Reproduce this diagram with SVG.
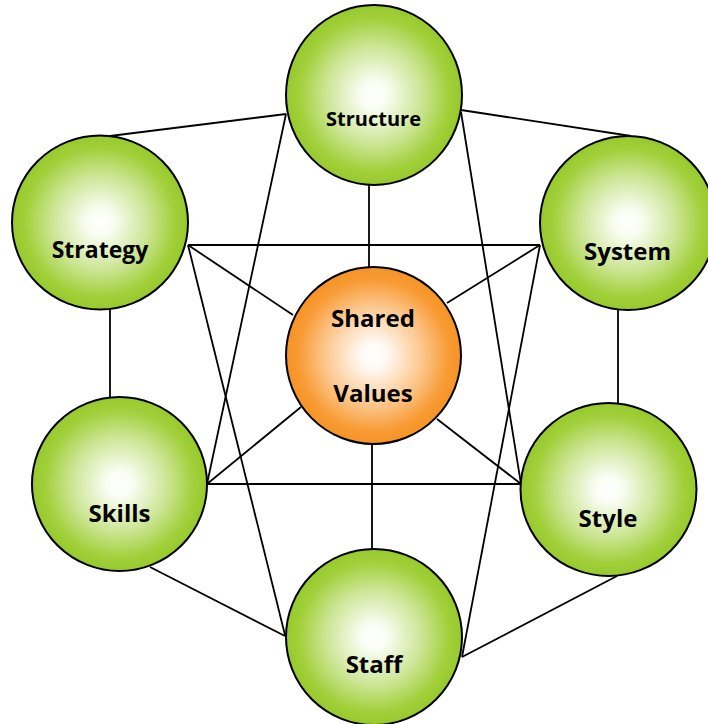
<svg xmlns="http://www.w3.org/2000/svg" width="708" height="724" viewBox="0 0 708 724">
  <defs>
    <radialGradient id="gGreen" cx="50%" cy="50%" r="50%">
      <stop offset="0" stop-color="#ffffff"/>
      <stop offset="0.15" stop-color="#fafdf3"/>
      <stop offset="0.55" stop-color="#cbe593"/>
      <stop offset="0.85" stop-color="#a2d03b"/>
      <stop offset="1" stop-color="#97c92c"/>
    </radialGradient>
    <radialGradient id="gOrange" cx="50%" cy="50%" r="50%">
      <stop offset="0" stop-color="#ffffff"/>
      <stop offset="0.15" stop-color="#fff9f3"/>
      <stop offset="0.55" stop-color="#fcc88f"/>
      <stop offset="0.85" stop-color="#f89c36"/>
      <stop offset="1" stop-color="#f69324"/>
    </radialGradient>
    <style>
      .node { stroke: #000000; stroke-width: 2; }
      .green { fill: url(#gGreen); }
      .orange { fill: url(#gOrange); }
      .lbl { font-family: "Open Sans", "Liberation Sans", sans-serif; font-weight: bold; fill: #000000; text-anchor: middle; }
      .conn line { stroke: #000000; stroke-width: 1.8; fill: none; }
    </style>
  </defs>
  <rect width="708" height="724" fill="#ffffff"/>
  <g id="connectors" class="conn">
    <line x1="110" y1="136" x2="286" y2="114"/>
    <line x1="461" y1="110" x2="631" y2="136"/>
    <line x1="369" y1="185" x2="369" y2="267"/>
    <line x1="188" y1="245" x2="540" y2="245"/>
    <line x1="188" y1="245" x2="293" y2="315"/>
    <line x1="188" y1="245" x2="285" y2="635"/>
    <line x1="286" y1="114" x2="207" y2="484"/>
    <line x1="207" y1="484" x2="301" y2="407"/>
    <line x1="207" y1="484" x2="521" y2="484"/>
    <line x1="150" y1="567" x2="285" y2="636"/>
    <line x1="110" y1="309" x2="110" y2="397"/>
    <line x1="461" y1="112" x2="521" y2="484"/>
    <line x1="540" y1="245" x2="447" y2="303"/>
    <line x1="540" y1="245" x2="462" y2="657"/>
    <line x1="618" y1="310" x2="618" y2="404"/>
    <line x1="437" y1="419" x2="521" y2="484"/>
    <line x1="372" y1="444" x2="372" y2="550"/>
    <line x1="617" y1="576" x2="462" y2="657"/>
  </g>
  <g id="structure">
    <ellipse class="node green" cx="374" cy="95" rx="88" ry="90"/>
    <text class="lbl" x="373.5" y="126" font-size="20">Structure</text>
  </g>
  <g id="strategy">
    <ellipse class="node green" cx="100" cy="222.5" rx="88" ry="87"/>
    <text class="lbl" x="100" y="258" font-size="23">Strategy</text>
  </g>
  <g id="system">
    <ellipse class="node green" cx="628" cy="223" rx="88" ry="87"/>
    <text class="lbl" x="627.5" y="260" font-size="24">System</text>
  </g>
  <g id="shared-values">
    <ellipse class="node orange" cx="373.5" cy="355.5" rx="87.5" ry="88.5"/>
    <text class="lbl" x="373" y="327" font-size="24">Shared</text>
    <text class="lbl" x="373" y="402" font-size="24">Values</text>
  </g>
  <g id="skills">
    <ellipse class="node green" cx="119.5" cy="484" rx="87.5" ry="87"/>
    <text class="lbl" x="119.5" y="522" font-size="24">Skills</text>
  </g>
  <g id="style">
    <ellipse class="node green" cx="608.5" cy="489.5" rx="88" ry="86.5"/>
    <text class="lbl" x="608" y="527" font-size="24">Style</text>
  </g>
  <g id="staff">
    <ellipse class="node green" cx="374" cy="637" rx="88" ry="88"/>
    <text class="lbl" x="374" y="673" font-size="24">Staff</text>
  </g>
</svg>
